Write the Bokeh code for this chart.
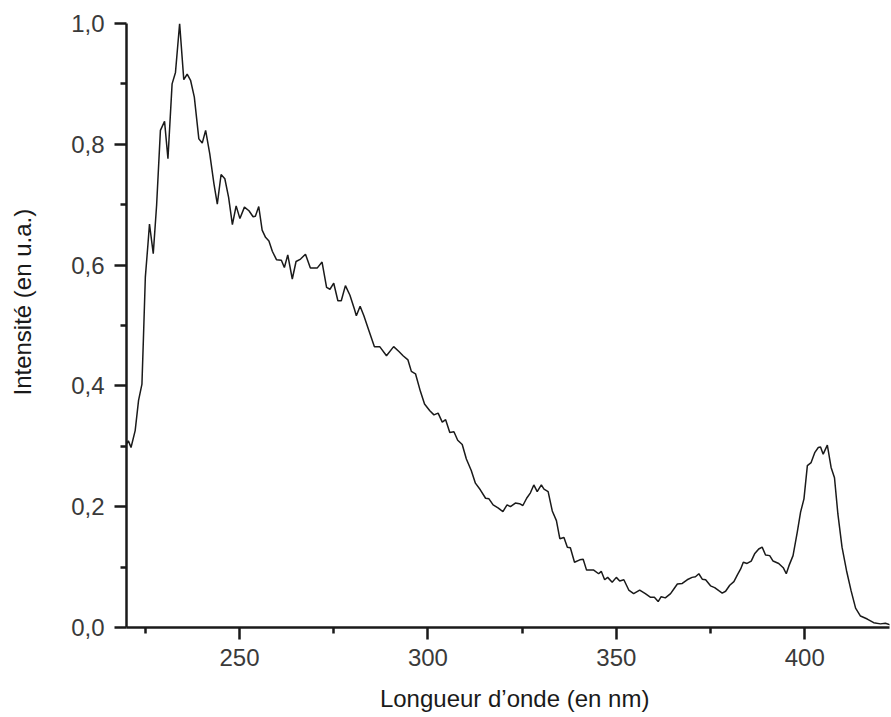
from bokeh.plotting import figure
from bokeh.models import Range1d, FixedTicker, CustomJSTickFormatter
from bokeh.embed import file_html
from bokeh.resources import INLINE

wavelength = [
    220.0, 220.5, 221.2, 222.3, 223.2, 224.1, 224.5, 225.0, 225.7, 226.1,
    227.1, 228.0,
    229.0, 230.1, 231.0, 232.1, 233.0, 234.1, 235.2, 236.1, 237.0, 238.0,
    239.2, 240.1, 241.0, 242.1, 243.2, 244.1, 245.1, 246.1, 247.1, 248.1,
    249.1, 250.1, 251.3, 252.5, 253.6, 254.2, 255.1, 256.0, 256.9, 257.8,
    258.7, 259.8, 261.1, 261.9, 262.8, 264.0, 265.0, 266.2, 267.5, 268.8,
    270.6, 271.9, 273.1, 274.0, 275.0, 276.1, 277.0, 278.1, 279.3, 280.5,
    281.0, 282.0, 283.0, 284.3, 285.8, 287.2, 289.0, 290.9, 292.3, 293.4,
    294.7, 295.6, 296.7, 298.0, 299.1, 300.5, 301.6, 302.7, 303.8, 304.7,
    305.8, 306.9, 307.9, 309.1, 310.2, 311.5, 312.6, 313.9, 315.3, 316.2,
    317.3, 318.6, 319.9, 321.0, 321.9, 323.2, 324.3, 325.2, 326.2, 327.2,
    328.1, 329.0, 330.1, 330.8, 331.9, 333.0, 334.1, 335.0, 336.1, 337.0,
    337.8, 338.9, 340.3, 341.2, 342.1, 344.0, 345.3, 346.0, 346.9, 347.7,
    348.9, 350.0, 350.9, 352.0, 353.3, 354.6, 356.2, 357.7, 359.1, 360.1,
    361.1, 361.9, 363.0, 364.4, 365.4, 366.2, 367.5, 368.8, 370.1, 371.0,
    371.9, 372.8, 373.7, 375.0, 376.1, 377.2, 378.1, 379.0, 380.1, 381.2,
    382.2, 383.0, 383.7, 384.7, 385.8, 386.7, 387.8, 388.7, 389.6, 390.7,
    391.6, 393.1, 394.3, 395.1, 395.8, 396.9, 398.0, 398.9, 399.8, 400.7,
    401.7, 402.7, 403.6, 404.2, 404.9, 406.0, 407.0, 407.9, 408.8, 409.9,
    411.1, 412.3, 413.5, 414.8, 416.6, 418.3, 420.1, 421.4, 423.0,
]
intensity = [
    0.304, 0.309, 0.298, 0.326, 0.376, 0.403, 0.480, 0.580, 0.635, 0.668,
    0.619, 0.700,
    0.823, 0.838, 0.776, 0.900, 0.919, 1.000, 0.907, 0.916, 0.906, 0.878,
    0.809, 0.802, 0.823, 0.784, 0.735, 0.701, 0.750, 0.743, 0.712, 0.667,
    0.698, 0.677, 0.696, 0.690, 0.680, 0.681, 0.697, 0.658, 0.646, 0.640,
    0.623, 0.609, 0.608, 0.596, 0.617, 0.577, 0.606, 0.610, 0.618, 0.595,
    0.595, 0.605, 0.563, 0.560, 0.570, 0.541, 0.541, 0.566, 0.550, 0.527,
    0.516, 0.532, 0.516, 0.492, 0.465, 0.465, 0.450, 0.465, 0.457, 0.450,
    0.443, 0.424, 0.420, 0.391, 0.370, 0.359, 0.352, 0.355, 0.340, 0.344,
    0.323, 0.324, 0.310, 0.303, 0.279, 0.260, 0.239, 0.228, 0.214, 0.213,
    0.203, 0.198, 0.192, 0.203, 0.200, 0.206, 0.205, 0.202, 0.214, 0.223,
    0.236, 0.225, 0.236, 0.229, 0.225, 0.193, 0.177, 0.147, 0.149, 0.133,
    0.132, 0.108, 0.112, 0.113, 0.095, 0.095, 0.089, 0.093, 0.079, 0.083,
    0.075, 0.083, 0.077, 0.079, 0.062, 0.056, 0.062, 0.056, 0.050, 0.050,
    0.043, 0.051, 0.049, 0.056, 0.065, 0.072, 0.073, 0.079, 0.083, 0.084,
    0.089, 0.080, 0.079, 0.069, 0.066, 0.061, 0.057, 0.060, 0.070, 0.076,
    0.088, 0.097, 0.108, 0.106, 0.110, 0.122, 0.130, 0.133, 0.120, 0.119,
    0.110, 0.106, 0.099, 0.089, 0.102, 0.119, 0.157, 0.191, 0.213, 0.268,
    0.273, 0.290, 0.298, 0.299, 0.287, 0.302, 0.265, 0.248, 0.188, 0.133,
    0.094, 0.061, 0.032, 0.019, 0.014, 0.008, 0.006, 0.007, 0.004,
]

x_major = [250, 300, 350, 400]
x_minor = [225, 275, 325, 375, 425]
y_major = [0.0, 0.2, 0.4, 0.6, 0.8, 1.0]
y_minor = [0.1, 0.3, 0.5, 0.7, 0.9]
x_title = "Longueur d\u2019onde (en nm)"
y_title = "Intensit\u00e9 (en u.a.)"

INK = "#1a1a1a"
NBSP = "\u00a0"

p = figure(width=891, height=717, output_backend="svg", toolbar_location=None,
           x_range=Range1d(220, 422.5), y_range=Range1d(0, 1.0),
           min_border_left=126, min_border_right=2, min_border_top=23,
           min_border_bottom=90)
p.outline_line_color = None
p.background_fill_color = "white"
p.border_fill_color = "white"
p.xgrid.visible = False
p.ygrid.visible = False

p.line(wavelength, intensity, line_color=INK, line_width=1.5)

p.xaxis.ticker = FixedTicker(ticks=x_major, minor_ticks=x_minor)
p.yaxis.ticker = FixedTicker(ticks=y_major, minor_ticks=y_minor)
p.yaxis.formatter = CustomJSTickFormatter(code="return tick.toFixed(1).replace('.', ',');")

for ax in (p.xaxis[0], p.yaxis[0]):
    ax.axis_line_width = 2.5
    ax.axis_line_color = INK
    ax.major_tick_line_width = 2.5
    ax.minor_tick_line_width = 2.5
    ax.major_tick_line_color = INK
    ax.minor_tick_line_color = INK
    ax.major_tick_out = 12
    ax.major_tick_in = 0
    ax.minor_tick_out = 6
    ax.minor_tick_in = 0
    ax.major_label_text_font = "Liberation Sans"
    ax.major_label_text_font_size = "24px"
    ax.major_label_text_color = "#3a3a3a"
    ax.axis_label_text_font = "Liberation Sans"
    ax.axis_label_text_font_size = "24px"
    ax.axis_label_text_font_style = "normal"
    ax.axis_label_text_color = INK

p.xaxis[0].major_label_standoff = 9
p.yaxis[0].major_label_standoff = 10

# leading no-break spaces nudge the centred titles to the reference position
p.xaxis[0].axis_label = NBSP * 2 + x_title
p.xaxis[0].axis_label_standoff = 16
p.yaxis[0].axis_label = NBSP * 7 + y_title
p.yaxis[0].axis_label_standoff = 32

open("out.html", "w").write(file_html(p, INLINE))
